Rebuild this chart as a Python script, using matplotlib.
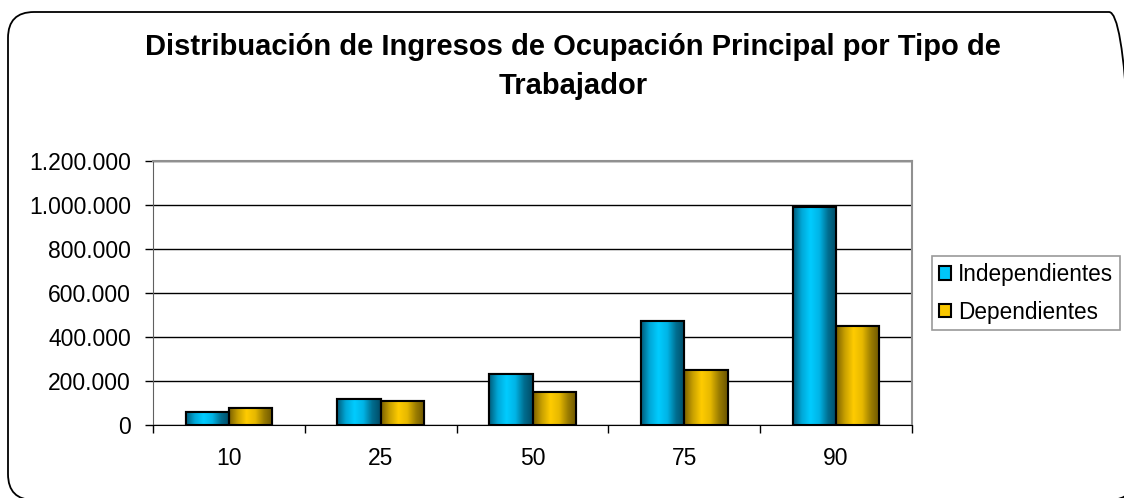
import numpy as np
import matplotlib
matplotlib.use("Agg")
import matplotlib.pyplot as plt
from matplotlib.patches import FancyBboxPatch
from matplotlib.colors import LinearSegmentedColormap

plt.rcParams["font.family"] = ["Liberation Sans", "DejaVu Sans"]

# ---------- Data ----------
categories = ["10", "25", "50", "75", "90"]
independientes = [58000, 117000, 232000, 474000, 990000]
dependientes = [76000, 109000, 150000, 250000, 449000]
series_names = ["Independientes", "Dependientes"]
y_ticks = [0, 200000, 400000, 600000, 800000, 1000000, 1200000]
# --------------------------

W, H = 1124, 498
fig = plt.figure(figsize=(W / 100, H / 100), dpi=100)

# outer rounded frame (in inches; runs past the right/bottom edges like the original)
frame = FancyBboxPatch((0.08, -0.02), 11.27, 4.88,
                       boxstyle="round,pad=0,rounding_size=0.26",
                       transform=fig.dpi_scale_trans, fill=False, lw=1.3,
                       ec="black")
fig.patches.append(frame)

ax = fig.add_axes([153 / W, 1 - 425 / H, (912 - 153) / W, (425 - 161) / H])

cyan = LinearSegmentedColormap.from_list(
    "cy", ["#005a78", "#00a8d8", "#00ccff", "#00b4e6", "#006e90", "#004a64"])
gold = LinearSegmentedColormap.from_list(
    "gd", ["#7a6000", "#c8a000", "#ffcc00", "#e6b800", "#9a7c00", "#6a5400"])

x = np.arange(len(categories))
bw = 0.285
grad = np.linspace(0, 1, 256).reshape(1, -1)
for vals, off, cmap, name in [(independientes, -bw / 2, cyan, series_names[0]),
                              (dependientes, bw / 2, gold, series_names[1])]:
    bars = ax.bar(x + off, vals, width=bw, color=cmap(0.45), edgecolor="black",
                  lw=1.5, zorder=3, label=name)
    for b in bars:
        x0, y0 = b.get_x(), b.get_y()
        im = ax.imshow(grad, cmap=cmap, aspect="auto", zorder=3.5,
                       extent=[x0, x0 + b.get_width(), y0, y0 + b.get_height()])
        im.set_clip_path(b)
        ax.add_patch(plt.Rectangle((x0, y0), b.get_width(), b.get_height(),
                                   fill=False, ec="black", lw=1.5, zorder=4))

ax.set_xlim(-0.5, len(categories) - 0.5)
ax.set_ylim(0, 1200000)
ax.set_yticks(y_ticks)
ax.set_yticklabels([f"{v:,}".replace(",", ".") for v in y_ticks])
ax.yaxis.grid(True, color="black", lw=1.0, zorder=0)
ax.set_axisbelow(True)

ax.set_xticks(x)
ax.set_xticklabels(categories)
ax.set_xticks(np.arange(len(categories) + 1) - 0.5, minor=True)
ax.tick_params(axis="x", which="major", length=0, pad=16, labelsize=16.5)
ax.tick_params(axis="x", which="minor", length=6, width=1, direction="out")
ax.tick_params(axis="y", length=6, width=1, direction="out", pad=10, labelsize=16.5)

for s in ["top", "right"]:
    ax.spines[s].set_color("#909090")
    ax.spines[s].set_linewidth(1.5)
ax.spines["left"].set_color("#606060")
ax.spines["bottom"].set_color("black")

fig.text(573 / W, 1 - 47 / H, "Distribuación de Ingresos de Ocupación Principal por Tipo de",
         ha="center", va="center", fontsize=21, fontweight="bold")
fig.text(573 / W, 1 - 86 / H, "Trabajador",
         ha="center", va="center", fontsize=21, fontweight="bold")

handles, labels = ax.get_legend_handles_labels()
leg = fig.legend(handles, labels, loc="upper left",
                 bbox_to_anchor=(932 / W, 1 - 256 / H), fontsize=16.3,
                 frameon=True, fancybox=False, edgecolor="#808080",
                 handlelength=0.55, handleheight=0.55, handletextpad=0.3,
                 borderpad=0.3, labelspacing=0.65, borderaxespad=0)
leg.get_frame().set_linewidth(1.2)

fig.savefig("out.png", dpi=100)
